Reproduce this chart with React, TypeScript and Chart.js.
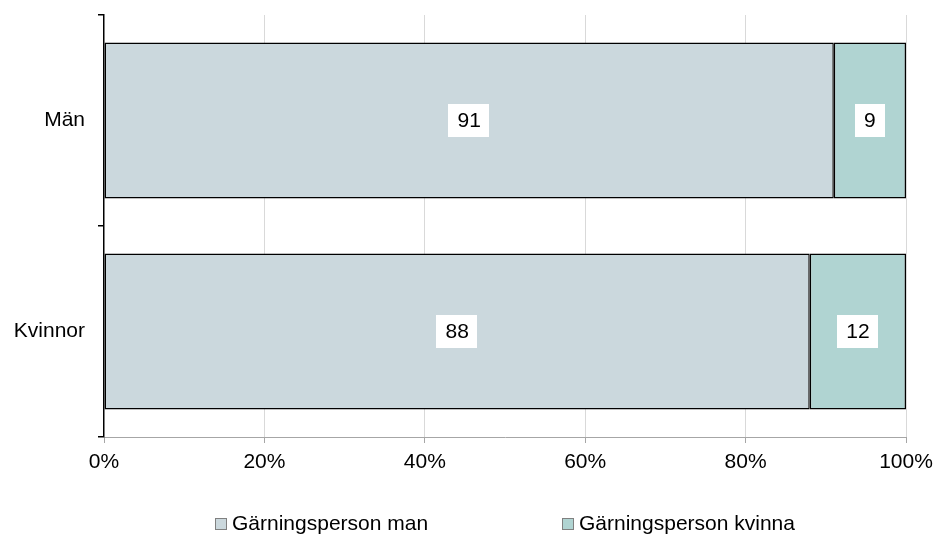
import React, { useEffect, useRef } from "react";
import { Chart, registerables } from "chart.js";

Chart.register(...registerables);

const categories = ["Män", "Kvinnor"];
const seriesNames = ["Gärningsperson man", "Gärningsperson kvinna"];
const manValues = [91, 88];
const kvinnaValues = [9, 12];
const seriesColors = ["#cbd8dd", "#b0d4d2"];
const xTicks = [0, 20, 40, 60, 80, 100];

const FONT = "'Liberation Sans', Arial, sans-serif";

const dataLabelPlugin = {
  id: "dataLabelBoxes",
  afterDatasetsDraw(chart: any) {
    const ctx = chart.ctx;
    ctx.save();
    ctx.font = `21px ${FONT}`;
    ctx.textAlign = "center";
    ctx.textBaseline = "middle";
    chart.data.datasets.forEach((ds: any, di: number) => {
      const meta = chart.getDatasetMeta(di);
      meta.data.forEach((bar: any, i: number) => {
        const v = ds.data[i];
        const text = String(v);
        const cx = (bar.x + bar.base) / 2;
        const cy = bar.y;
        const w = ctx.measureText(text).width + 18;
        const h = 33;
        ctx.fillStyle = "#ffffff";
        ctx.fillRect(Math.round(cx - w / 2), Math.round(cy - h / 2), Math.round(w), h);
        ctx.fillStyle = "#000000";
        ctx.fillText(text, cx, cy + 1);
      });
    });
    ctx.restore();
  },
};

const legendPlugin = {
  id: "customLegend",
  afterDraw(chart: any) {
    const ctx = chart.ctx;
    ctx.save();
    ctx.font = `21px ${FONT}`;
    ctx.textAlign = "left";
    ctx.textBaseline = "middle";
    const y = 524;
    chart.data.datasets.forEach((ds: any, i: number) => {
      const x = 215 + i * 347;
      ctx.fillStyle = ds.backgroundColor;
      ctx.fillRect(x, y - 6, 12, 12);
      ctx.strokeStyle = "#808080";
      ctx.lineWidth = 1;
      ctx.strokeRect(x + 0.5, y - 5.5, 11, 11);
      ctx.fillStyle = "#000000";
      ctx.fillText(ds.label, x + 17, y);
    });
    ctx.restore();
  },
};

export default function App() {
  const ref = useRef<HTMLCanvasElement | null>(null);
  useEffect(() => {
    document.body.style.margin = "0";
    const canvas = ref.current!;
    const chart = new Chart(canvas, {
      type: "bar",
      data: {
        labels: categories,
        datasets: [
          {
            label: seriesNames[0],
            data: manValues,
            backgroundColor: seriesColors[0],
            borderColor: "#000000",
            borderWidth: 1.5,
            borderSkipped: false,
            categoryPercentage: 1,
            barPercentage: 0.74,
          },
          {
            label: seriesNames[1],
            data: kvinnaValues,
            backgroundColor: seriesColors[1],
            borderColor: "#000000",
            borderWidth: 1.5,
            borderSkipped: false,
            categoryPercentage: 1,
            barPercentage: 0.74,
          },
        ],
      },
      options: {
        indexAxis: "y",
        responsive: false,
        animation: false,
        layout: { padding: { top: 15, right: 31, left: 0, bottom: 0 } },
        plugins: {
          legend: { display: false },
          tooltip: { enabled: false },
        },
        scales: {
          x: {
            stacked: true,
            min: 0,
            max: 100,
            afterBuildTicks(scale: any) {
              scale.ticks = xTicks.map((v) => ({ value: v }));
            },
            afterFit(scale: any) {
              scale.height = 97;
              scale.paddingLeft = 0;
              scale.paddingRight = 0;
            },
            ticks: {
              callback: (v: any) => `${v}%`,
              font: { family: FONT, size: 21 },
              color: "#000000",
              padding: 7,
              maxRotation: 0,
            },
            grid: {
              color: (c: any) => (c.tick && c.tick.value === 0 ? "rgba(0,0,0,0)" : "#d9d9d9"),
              tickColor: "#a6a6a6",
              tickLength: 6,
              lineWidth: 1,
            },
            border: { color: "#a6a6a6", width: 1 },
          },
          y: {
            stacked: true,
            afterFit(scale: any) {
              scale.width = 104;
              scale.paddingTop = 0;
              scale.paddingBottom = 0;
            },
            ticks: {
              font: { family: FONT, size: 21 },
              color: "#000000",
              padding: 13,
            },
            grid: {
              offset: true,
              drawOnChartArea: false,
              drawTicks: true,
              tickLength: 6,
              tickColor: "#000000",
              lineWidth: 1.5,
            },
            border: { color: "#000000", width: 1.5 },
          },
        },
      } as any,
      plugins: [dataLabelPlugin, legendPlugin],
    });
    return () => chart.destroy();
  }, []);
  return (
    <div style={{ width: 937, height: 534, background: "#ffffff" }}>
      <canvas ref={ref} width={937} height={534} style={{ display: "block" }} />
    </div>
  );
}
